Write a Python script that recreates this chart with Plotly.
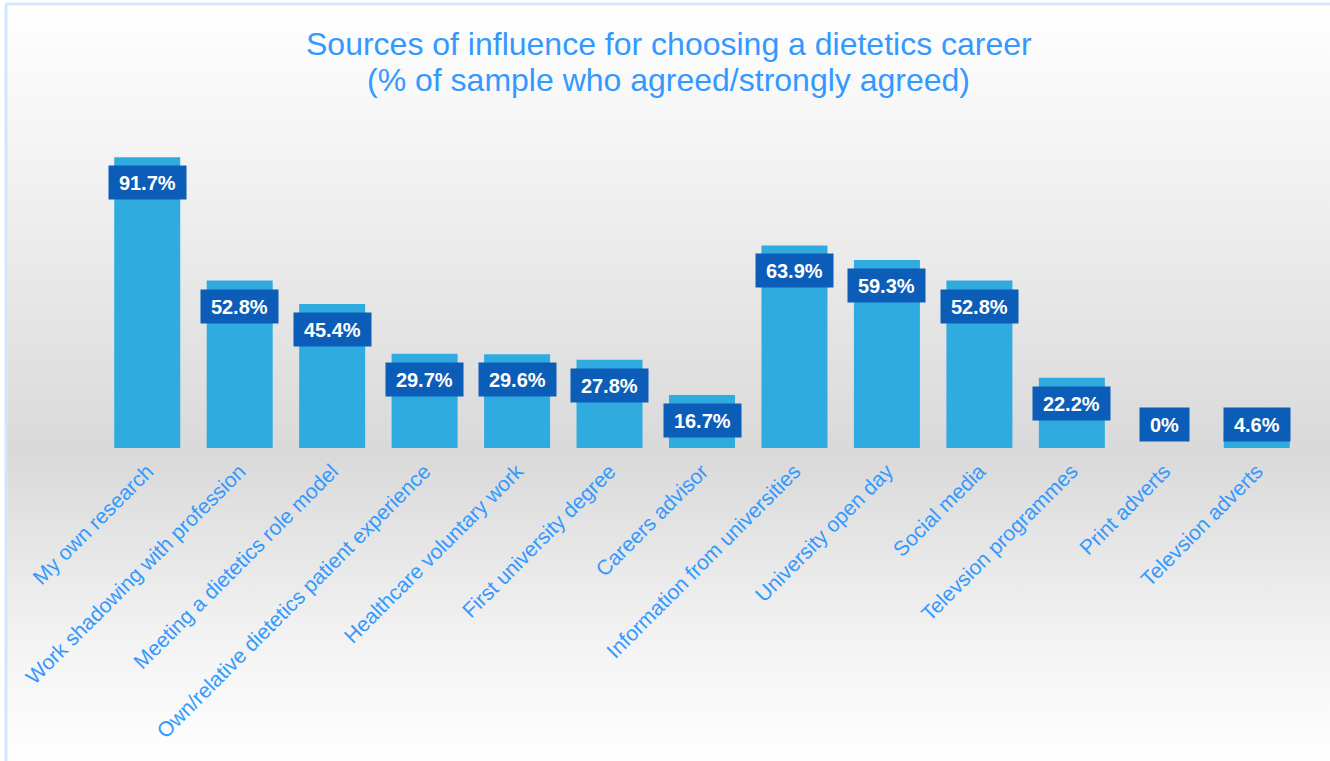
import base64
import plotly.graph_objects as go

categories = [
    "My own research",
    "Work shadowing with profession",
    "Meeting a dietetics role model",
    "Own/relative dietetics patient experience",
    "Healthcare voluntary work",
    "First university degree",
    "Careers advisor",
    "Information from universities",
    "University open day",
    "Social media",
    "Televsion programmes",
    "Print adverts",
    "Televsion adverts",
]
values = [91.7, 52.8, 45.4, 29.7, 29.6, 27.8, 16.7, 63.9, 59.3, 52.8, 22.2, 0, 4.6]
labels = ["91.7%", "52.8%", "45.4%", "29.7%", "29.6%", "27.8%", "16.7%",
          "63.9%", "59.3%", "52.8%", "22.2%", "0%", "4.6%"]
title_lines = ["Sources of influence for choosing a dietetics career",
               "(% of sample who agreed/strongly agreed)"]

W, H = 1330, 761
ML, MR, MT, MB = 101, 27, 131, 313
PW, PH = W - ML - MR, H - MT - MB

TITLE_COL = "#3399ff"
BAR_COL = "#30abe0"
LABEL_BG = "#0b5db8"

svg = f'''<svg xmlns="http://www.w3.org/2000/svg" width="{W}" height="{H}" viewBox="0 0 {W} {H}" preserveAspectRatio="none">
<defs><linearGradient id="g" x1="0" y1="0" x2="0" y2="1">
<stop offset="0" stop-color="#ffffff"/>
<stop offset="0.2" stop-color="#f3f3f3"/>
<stop offset="0.589" stop-color="#d9d9d9"/>
<stop offset="0.84" stop-color="#f3f3f3"/>
<stop offset="1" stop-color="#ffffff"/>
</linearGradient></defs>
<rect x="0" y="0" width="{W}" height="{H}" fill="#ffffff"/>
<rect x="6" y="4" width="{W}" height="{H}" fill="url(#g)"/>
<line x1="6" y1="4" x2="{W}" y2="4" stroke="#d2e7fb" stroke-width="3"/>
<line x1="6" y1="4" x2="6" y2="{H}" stroke="#d2e7fb" stroke-width="3"/>
</svg>'''
src = "data:image/svg+xml;base64," + base64.b64encode(svg.encode()).decode()

fig = go.Figure()
fig.add_trace(go.Bar(
    x=categories, y=values,
    marker=dict(color=BAR_COL, line=dict(width=0)),
    hoverinfo="x+y",
))

cw = {"0": 0.556, "1": 0.556, "2": 0.556, "3": 0.556, "4": 0.556, "5": 0.556,
      "6": 0.556, "7": 0.556, "8": 0.556, "9": 0.556, ".": 0.278, "%": 0.889}
FS = 20
for c, v, t in zip(categories, values, labels):
    tw = sum(cw.get(ch, 0.6) for ch in t) * FS
    if v >= 15.5:
        yy, ys = v, -25.5
    else:
        yy, ys = 0, 23.5
    fig.add_annotation(
        x=c, y=yy, yshift=ys, text=f"<b>{t}</b>", showarrow=False,
        xanchor="center", yanchor="middle",
        font=dict(family="Liberation Sans, Arial", size=FS, color="white"),
        bgcolor=LABEL_BG, borderpad=5, width=tw + 10, height=23,
    )

# two-line title with the tighter line spacing of the original
for line, yc in zip(title_lines, [44, 80]):
    fig.add_annotation(
        text=line, showarrow=False, xref="paper", yref="paper",
        x=(668.5 - ML) / PW, y=1 + (MT - yc) / PH,
        xanchor="center", yanchor="middle",
        font=dict(family="Liberation Sans, Arial", size=32, color=TITLE_COL),
    )

fig.update_layout(
    width=W, height=H,
    margin=dict(l=ML, r=MR, t=MT, b=MB, pad=0),
    paper_bgcolor="white",
    plot_bgcolor="rgba(0,0,0,0)",
    bargap=0.286,
    showlegend=False,
    font=dict(family="Liberation Sans, Arial"),
    xaxis=dict(
        tickangle=-45, tickfont=dict(size=21, color=TITLE_COL),
        showgrid=False, zeroline=False, showline=False, ticks="",
        ticklabelstandoff=6,
    ),
    yaxis=dict(range=[0, 100], visible=False, showgrid=False, zeroline=False),
    images=[dict(
        source=src, xref="paper", yref="paper",
        x=-ML / PW, y=1 + MT / PH, sizex=W / PW, sizey=H / PH,
        xanchor="left", yanchor="top", sizing="stretch", layer="below",
    )],
)

fig.write_html("out.html")
